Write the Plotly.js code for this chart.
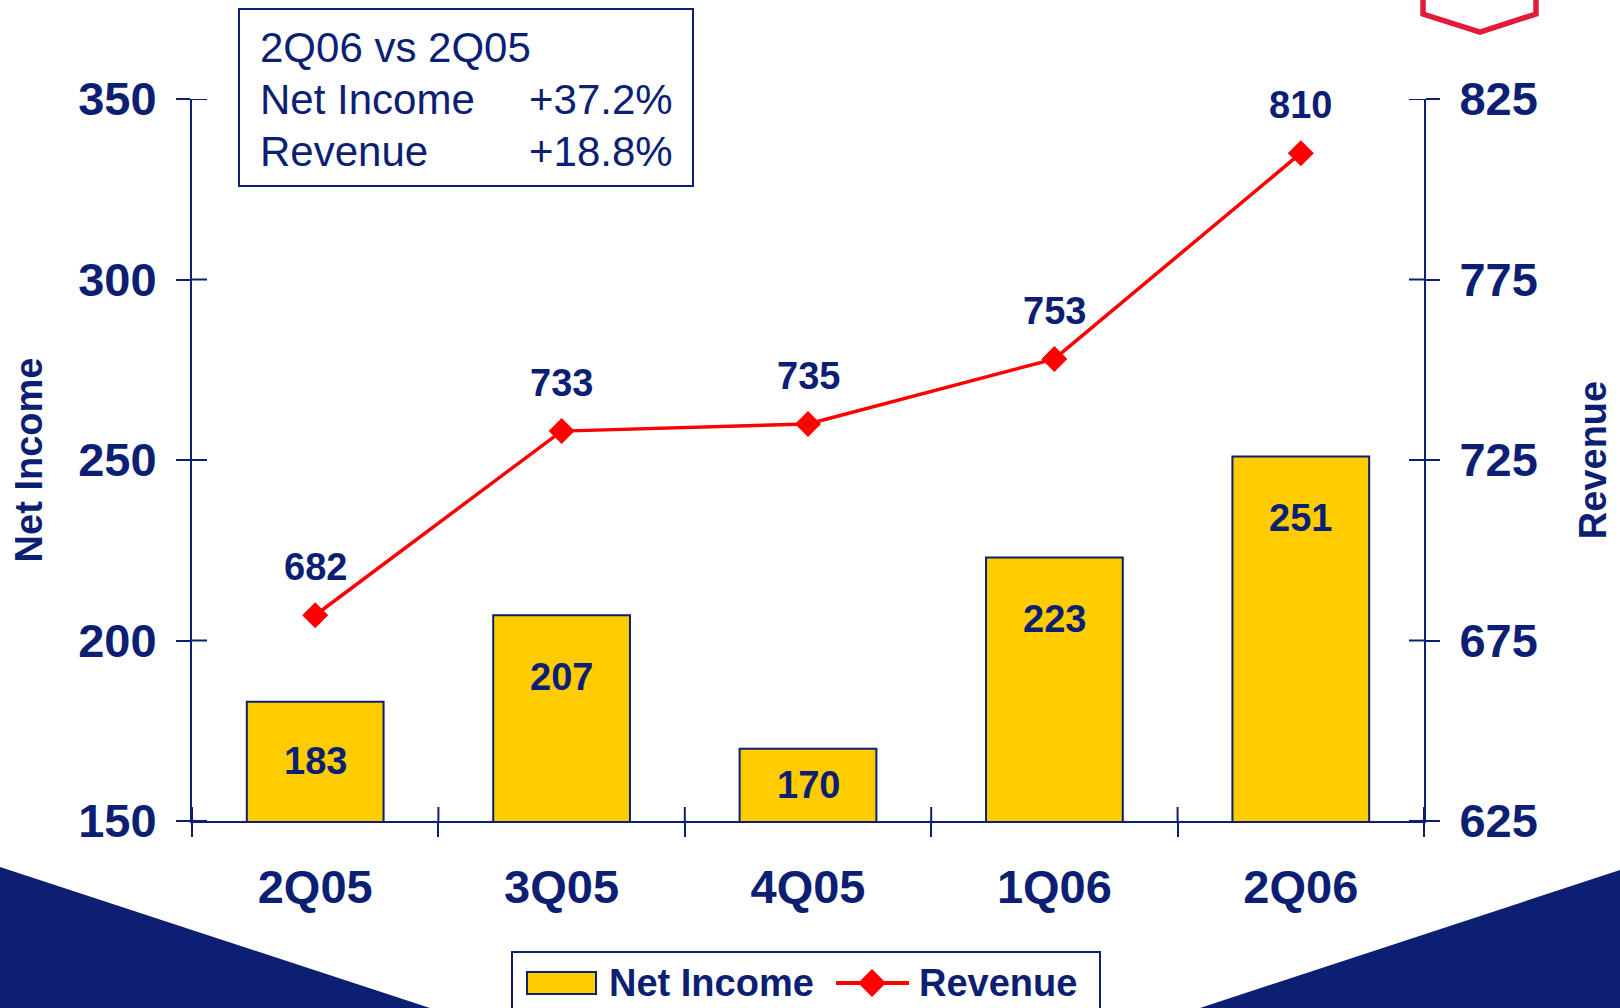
<!DOCTYPE html>
<html>
<head>
<meta charset="utf-8">
<script src="https://cdn.plot.ly/plotly-3.0.1.min.js"></script>
<style>html,body{margin:0;padding:0;background:#fff;}#chart{width:1620px;height:1008px;}</style>
</head>
<body>
<div id="chart"></div>
<script>
// ---- data ----
const categories = ['2Q05', '3Q05', '4Q05', '1Q06', '2Q06'];
const netIncome = [183, 207, 170, 223, 251];
const revenue = [682, 733, 735, 753, 810];
const leftTicks = [150, 200, 250, 300, 350];
const rightTicks = [625, 675, 725, 775, 825];
const summaryTitle = '2Q06 vs 2Q05';
const summaryLabels = ['Net Income', 'Revenue'];
const summaryValues = ['+37.2%', '+18.8%'];
const seriesNames = ['Net Income', 'Revenue'];

// ---- style ----
const NAVY = '#0c1f73';
const YELLOW = '#ffcc00';
const RED = '#ff0000';
const FONT = 'Liberation Sans, Arial, Helvetica, sans-serif';
const W = 1620, H = 1008;
const M = {l: 192, r: 196, t: 99, b: 187};
const PW = W - M.l - M.r, PH = H - M.t - M.b;
const px = x => (x - M.l) / PW;          // pixel -> paper x
const py = y => (H - M.b - y) / PH;      // pixel -> paper y
const yMin = leftTicks[0], yMax = leftTicks[leftTicks.length - 1];
const y2Min = rightTicks[0], y2Max = rightTicks[rightTicks.length - 1];

const traces = [
  {
    type: 'bar', name: seriesNames[0], x: categories, y: netIncome,
    base: 0, width: 0.555,
    marker: {color: YELLOW, line: {color: NAVY, width: 2}},
    showlegend: false, hoverinfo: 'x+y'
  },
  {
    type: 'scatter', mode: 'lines+markers', name: seriesNames[1],
    x: categories, y: revenue, yaxis: 'y2',
    line: {color: RED, width: 3.5},
    marker: {symbol: 'diamond', size: 20, color: RED},
    showlegend: false, hoverinfo: 'x+y'
  }
];

const shapes = [];
const annotations = [];

// background decoration
shapes.push({type: 'path', xref: 'paper', yref: 'paper', layer: 'below',
  path: `M${px(0)},${py(867)} L${px(0)},${py(H)} L${px(430)},${py(H)} Z`,
  fillcolor: NAVY, line: {width: 0}});
shapes.push({type: 'path', xref: 'paper', yref: 'paper', layer: 'below',
  path: `M${px(W)},${py(870)} L${px(W)},${py(H)} L${px(1200)},${py(H)} Z`,
  fillcolor: NAVY, line: {width: 0}});
shapes.push({type: 'path', xref: 'paper', yref: 'paper', layer: 'below',
  path: `M${px(1423)},${py(-10)} L${px(1423)},${py(14)} L${px(1480)},${py(32)} L${px(1536)},${py(14)} L${px(1536)},${py(-10)}`,
  line: {color: '#e31b3a', width: 5.5}});

// inner halves of the crossing ticks
leftTicks.forEach(t => shapes.push({type: 'line', xref: 'paper', yref: 'y',
  x0: 0, x1: 15 / PW, y0: t, y1: t, line: {color: NAVY, width: 2}}));
rightTicks.forEach(t => shapes.push({type: 'line', xref: 'paper', yref: 'y2',
  x0: 1 - 15 / PW, x1: 1, y0: t, y1: t, line: {color: NAVY, width: 2}}));
for (let i = 0; i <= categories.length; i++) {
  shapes.push({type: 'line', xref: 'x', yref: 'paper', x0: i - 0.5, x1: i - 0.5,
    y0: 0, y1: 14 / PH, line: {color: NAVY, width: 2}});
}

// bar value labels
netIncome.forEach((v, i) => annotations.push({
  x: categories[i], y: Math.max((v + yMin) / 2, v - 17), xref: 'x', yref: 'y',
  text: String(v), showarrow: false, yanchor: 'middle',
  font: {family: FONT, size: 38, color: NAVY, weight: 'bold'}
}));
// revenue value labels
revenue.forEach((v, i) => annotations.push({
  x: categories[i], y: v, xref: 'x', yref: 'y2', yshift: 48,
  text: String(v), showarrow: false, yanchor: 'middle',
  font: {family: FONT, size: 38, color: NAVY, weight: 'bold'}
}));

// summary box
shapes.push({type: 'rect', xref: 'paper', yref: 'paper',
  x0: px(239), x1: px(693), y0: py(186), y1: py(9),
  line: {color: NAVY, width: 2}, fillcolor: 'rgba(255,255,255,0)'});
const summaryFont = {family: FONT, size: 42, color: NAVY};
const rowY = [48, 99, 151];
[summaryTitle].concat(summaryLabels).forEach((t, i) => annotations.push({
  xref: 'paper', yref: 'paper', x: px(258), y: py(rowY[i]),
  xanchor: 'left', yanchor: 'middle', showarrow: false, text: t, font: summaryFont}));
summaryValues.forEach((t, i) => annotations.push({
  xref: 'paper', yref: 'paper', x: px(675), y: py(rowY[i + 1]),
  xanchor: 'right', yanchor: 'middle', showarrow: false, text: t, font: summaryFont}));

// legend (drawn)
const LY = 983;
shapes.push({type: 'rect', xref: 'paper', yref: 'paper',
  x0: px(512), x1: px(1100), y0: py(H + 20), y1: py(952),
  line: {color: NAVY, width: 2}, fillcolor: '#ffffff'});
shapes.push({type: 'rect', xref: 'paper', yref: 'paper',
  x0: px(527), x1: px(596), y0: py(LY + 11), y1: py(LY - 11),
  line: {color: NAVY, width: 2}, fillcolor: YELLOW});
shapes.push({type: 'line', xref: 'paper', yref: 'paper',
  x0: px(836), x1: px(909), y0: py(LY), y1: py(LY),
  line: {color: RED, width: 4}});
shapes.push({type: 'path', xref: 'paper', yref: 'paper',
  path: `M${px(872)},${py(LY - 14)} L${px(886)},${py(LY)} L${px(872)},${py(LY + 14)} L${px(858)},${py(LY)} Z`,
  fillcolor: RED, line: {width: 0}});
annotations.push({xref: 'paper', yref: 'paper', x: px(607), y: py(LY),
  xanchor: 'left', yanchor: 'middle', showarrow: false, text: seriesNames[0],
  font: {family: FONT, size: 38, color: NAVY, weight: 'bold'}});
annotations.push({xref: 'paper', yref: 'paper', x: px(917), y: py(LY),
  xanchor: 'left', yanchor: 'middle', showarrow: false, text: seriesNames[1],
  font: {family: FONT, size: 38, color: NAVY, weight: 'bold'}});

const axisCommon = {
  showline: true, linecolor: NAVY, linewidth: 2,
  ticks: 'outside', ticklen: 14, tickwidth: 2, tickcolor: NAVY,
  showgrid: false, zeroline: false, fixedrange: true,
  tickfont: {family: FONT, size: 47, color: NAVY, weight: 'bold'}
};

const layout = {
  width: W, height: H,
  margin: M,
  paper_bgcolor: '#ffffff', plot_bgcolor: 'rgba(0,0,0,0)',
  showlegend: false,
  xaxis: Object.assign({}, axisCommon, {
    type: 'category', range: [-0.5, categories.length - 0.5],
    tickson: 'boundaries', ticklabelstandoff: 24
  }),
  yaxis: Object.assign({}, axisCommon, {
    range: [yMin, yMax], tickvals: leftTicks, ticklabelstandoff: 10,
    title: {text: 'Net Income', standoff: 24,
      font: {family: FONT, size: 38, color: NAVY, weight: 'bold'}}
  }),
  yaxis2: Object.assign({}, axisCommon, {
    overlaying: 'y', side: 'right', anchor: 'x',
    range: [y2Min, y2Max], tickvals: rightTicks, ticklabelstandoff: 10,
    title: {text: 'Revenue', standoff: 43,
      font: {family: FONT, size: 38, color: NAVY, weight: 'bold'}}
  }),
  shapes: shapes,
  annotations: annotations
};

Plotly.newPlot('chart', traces, layout, {displayModeBar: false, responsive: false});
</script>
</body>
</html>
